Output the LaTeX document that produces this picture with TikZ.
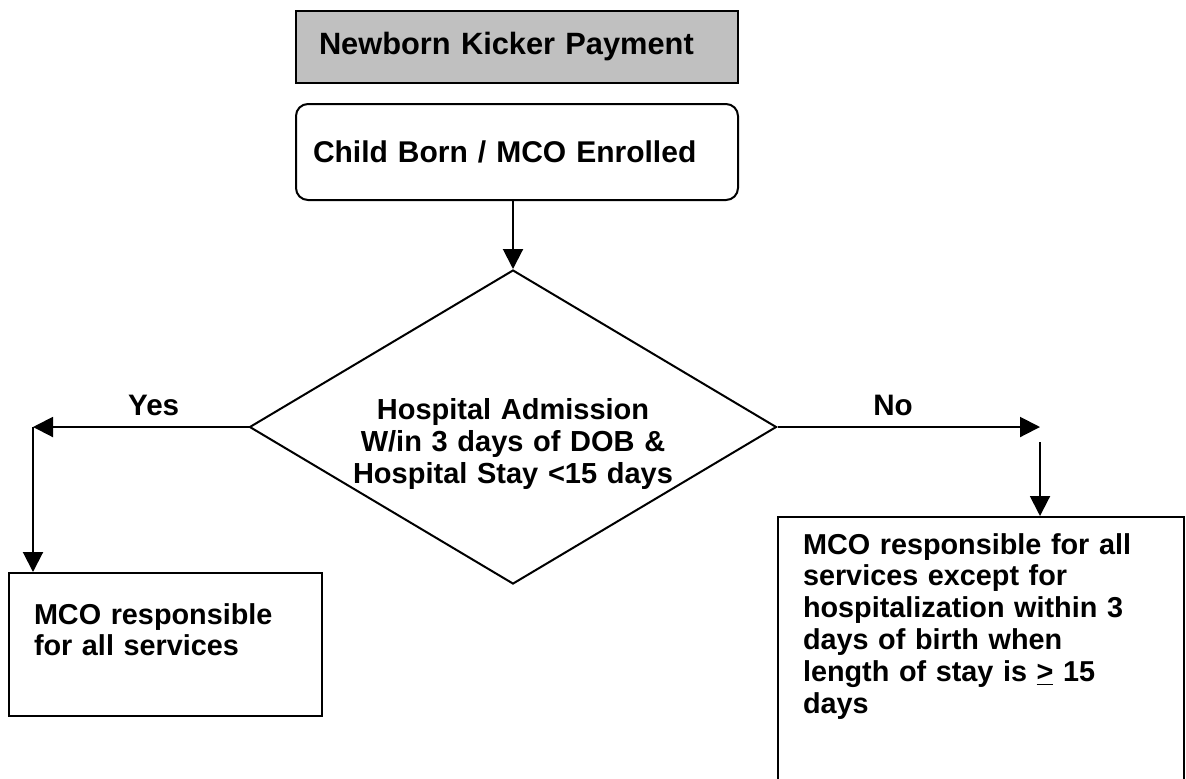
\documentclass[tikz,border=0pt]{standalone}
\usepackage{fontspec}
\setmainfont{Liberation Sans}
\usetikzlibrary{shapes.geometric, arrows.meta, positioning, calc}
\definecolor{titlegray}{RGB}{192,192,192}
\tikzset{
    box_title/.style={
        rectangle, draw=black, line width=1pt, fill=titlegray,
        minimum width=221pt, minimum height=36pt, text width=198pt,
        inner xsep=11.5pt, align=left, font=\fontsize{15.4}{18}\selectfont\bfseries
    },
    box_start/.style={
        rectangle, rounded corners=6pt, draw=black, line width=1pt,
        minimum width=221pt, minimum height=48pt, text width=204pt,
        inner xsep=8.5pt, align=left, font=\fontsize{15}{18}\selectfont\bfseries
    },
    box_decide/.style={
        diamond, aspect=1.68, draw=black, line width=1pt, inner sep=0pt,
        minimum width=263.5pt, minimum height=157pt, text width=160pt,
        text height=25.5pt, text depth=33pt,
        align=center, font=\fontsize{14.5}{15.9}\selectfont\bfseries
    },
    box_result/.style={
        rectangle, draw=black, line width=1pt, inner ysep=0pt, inner xsep=12.5pt,
        align=left, font=\fontsize{14.4}{15.9}\selectfont\bfseries
    },
    flow_arrow/.style={
        -{Triangle[length=10pt, width=10pt]}, draw=black, line width=1pt
    },
    lbl/.style={
        font=\fontsize{14.8}{16}\selectfont\bfseries, inner sep=0pt
    }
}
\begin{document}
\begin{tikzpicture}[x=0.5pt, y=-0.5pt]
    \useasboundingbox (0,0) rectangle (1186,778);

    % Top
    \node[box_title, anchor=north west] (title) at (295,10) {Newborn Kicker Payment};
    \node[box_start, anchor=north west] (born) at (295,103) {Child Born / MCO Enrolled};

    % Decision
    \node[box_decide] (admit) at (513,427) {Hospital Admission\\W/in 3 days of DOB \&\\Hospital Stay <15 days};

    % Outcomes
    \node[box_result, anchor=north west, text width=131.5pt, text height=25.5pt, text depth=46pt] (allsvc) at (8,572)
        {MCO responsible\\for all services};
    \node[box_result, anchor=north west, text width=178pt, text height=18.5pt, text depth=118.5pt] (except) at (777,516)
        {MCO responsible for all\\services except for\\hospitalization within 3\\days of birth when\\length of stay is \underline{>} 15\\days};

    % Turn points
    \coordinate (yesturn) at (33,427);
    \coordinate (noturn) at (1040,427);
    \coordinate (nodrop) at (1040,442);

    % Connectors
    \draw[flow_arrow] (admit.north |- born.south) -- (admit.north);
    \draw[flow_arrow] (admit.west) -- node[lbl, pos=0.44, above=5pt] (yes) {Yes} (yesturn);
    \draw[flow_arrow] (yesturn) -- (yesturn |- allsvc.north);
    \draw[flow_arrow] (admit.east) -- node[lbl, pos=0.44, above=5pt] (no) {No} (noturn);
    \draw[flow_arrow] (nodrop) -- (nodrop |- except.north);
\end{tikzpicture}
\end{document}
